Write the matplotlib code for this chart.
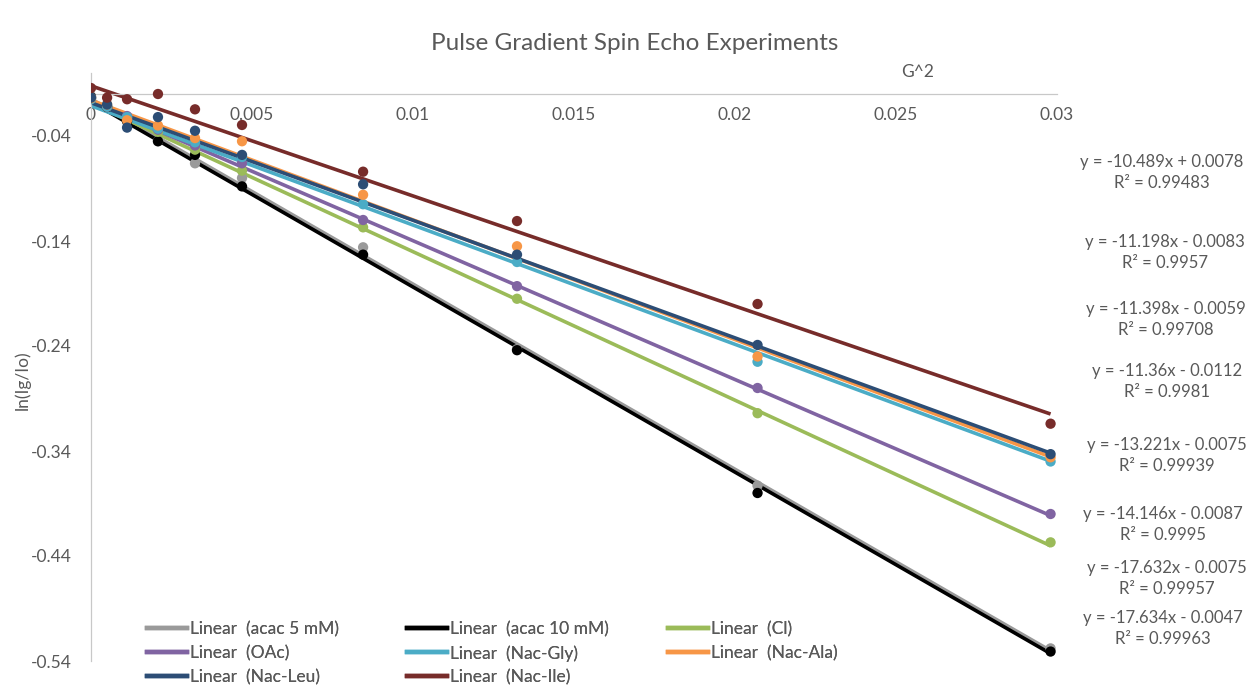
import matplotlib.pyplot as plt
from matplotlib.lines import Line2D
import numpy as np

# ===== CONFIGURATION =====
TEXT_COLOR = '#595959'
AXIS_COLOR = '#c8c8c8'
W, H = 1252, 696
plt.rcParams['font.family'] = ['Lato', 'DejaVu Sans']

# ===== DATA =====
g2 = [0, 0.0005, 0.00112, 0.00208, 0.00323, 0.00469, 0.00845, 0.01323, 0.0207, 0.0298]

series_names = ['acac 5 mM', 'acac 10 mM', 'Cl', 'OAc', 'Nac-Gly', 'Nac-Ala', 'Nac-Leu', 'Nac-Ile']
acac_5mM = [-0.002, -0.012, -0.024, -0.045, -0.066, -0.080, -0.146, -0.243, -0.373, -0.528]
acac_10mM = [-0.003, -0.0124, -0.026, -0.045, -0.058, -0.088, -0.153, -0.244, -0.380, -0.531]
cl = [-0.004, -0.012, -0.022, -0.036, -0.053, -0.073, -0.127, -0.195, -0.304, -0.427]
oac = [-0.004, -0.012, -0.021, -0.034, -0.049, -0.066, -0.120, -0.183, -0.280, -0.400]
nac_gly = [-0.005, -0.012, -0.022, -0.033, -0.046, -0.060, -0.105, -0.160, -0.255, -0.350]
nac_ala = [-0.004, -0.010, -0.025, -0.030, -0.042, -0.045, -0.096, -0.145, -0.250, -0.346]
nac_leu = [-0.0035, -0.010, -0.032, -0.022, -0.035, -0.058, -0.086, -0.153, -0.239, -0.343]
nac_ile = [0.0057, -0.0035, -0.005, 0.0, -0.0146, -0.0295, -0.074, -0.121, -0.200, -0.314]
series_values = [acac_5mM, acac_10mM, cl, oac, nac_gly, nac_ala, nac_leu, nac_ile]

# linear trendlines as printed on the chart
slopes = [-17.634, -17.632, -14.146, -13.221, -11.36, -11.398, -11.198, -10.489]
intercepts = [-0.0047, -0.0075, -0.0087, -0.0075, -0.0112, -0.0059, -0.0083, 0.0078]
r_squared = ['0.99963', '0.99957', '0.9995', '0.99939', '0.9981', '0.99708', '0.9957', '0.99483']

x_ticks = [0, 0.005, 0.01, 0.015, 0.02, 0.025, 0.03]
x_tick_labels = ['0', '0.005', '0.01', '0.015', '0.02', '0.025', '0.03']
y_ticks = [-0.54, -0.44, -0.34, -0.24, -0.14, -0.04]
y_tick_labels = ['-0.54', '-0.44', '-0.34', '-0.24', '-0.14', '-0.04']

colors = ['#9a9a9a', '#000000', '#9BBB59', '#8064A2', '#4BACC6', '#F79646', '#2C4D75', '#772C2A']

# equation label layout (top to bottom: series index, pixel y, pixel x centre)
eq_order = [7, 6, 5, 4, 3, 2, 1, 0]
eq_y_px = [162, 242, 309, 371, 445, 514, 568, 618]
eq_x_px = [1162, 1165, 1166, 1167, 1167, 1163, 1167, 1163]

# legend columns (Excel fills the legend row by row)
legend_cols = [[0, 3, 6], [1, 4, 7], [2, 5]]
legend_col_x = [147, 407, 668]
# ==========================


def fx(px):
    return px / W


def fy(py):
    return 1 - py / H


fig = plt.figure(figsize=(W / 100, H / 100), dpi=100, facecolor='white')
ax = fig.add_axes([fx(91), fy(661), fx(1057) - fx(91), fy(73) - fy(661)])

x = np.array(g2)
x_line = np.array([x.min(), x.max()])
for i, name in enumerate(series_names):
    y_line = slopes[i] * x_line + intercepts[i]
    ax.plot(x_line, y_line, color=colors[i], lw=2.6, solid_capstyle='butt', zorder=2 + i * 0.01)
for i, name in enumerate(series_names):
    ax.scatter(x, series_values[i], s=55, color=colors[i], edgecolors='none', zorder=3 + i * 0.01)

ax.set_xlim(0, 0.03)
ax.set_ylim(-0.54, 0.02)

ax.spines['top'].set_visible(False)
ax.spines['right'].set_visible(False)
ax.spines['bottom'].set_position(('data', 0))
ax.spines['bottom'].set_color(AXIS_COLOR)
ax.spines['left'].set_color(AXIS_COLOR)
ax.spines['bottom'].set_linewidth(0.9)
ax.spines['left'].set_linewidth(0.9)

ax.set_xticks(x_ticks)
ax.set_xticklabels(x_tick_labels)
ax.set_yticks(y_ticks)
ax.set_yticklabels(y_tick_labels)
ax.tick_params(axis='x', length=0, pad=9, labelsize=12.5, labelcolor=TEXT_COLOR)
ax.tick_params(axis='y', length=0, pad=14, labelsize=12.5, labelcolor=TEXT_COLOR)

fig.text(fx(635), fy(44), 'Pulse Gradient Spin Echo Experiments', ha='center', va='center',
         fontsize=17.5, color=TEXT_COLOR)
fig.text(fx(918), fy(72), 'G^2', ha='center', va='center', fontsize=12.5, color=TEXT_COLOR)
fig.text(fx(22), fy(380), 'ln(Ig/Io)', ha='center', va='center', rotation=90,
         fontsize=12.5, color=TEXT_COLOR)

# trendline equations
for k, i in enumerate(eq_order):
    b = intercepts[i]
    sign = '+' if b >= 0 else '-'
    eq = f'y = {slopes[i]}x {sign} {abs(b)}'
    fig.text(fx(eq_x_px[k]), fy(eq_y_px[k]), eq, ha='center', va='center',
             fontsize=12, color=TEXT_COLOR)
    fig.text(fx(eq_x_px[k]), fy(eq_y_px[k] + 21), f'R² = {r_squared[i]}', ha='center', va='center',
             fontsize=12, color=TEXT_COLOR)

# legend, one column at a time so the columns sit where Excel put them
for col, col_x in zip(legend_cols, legend_col_x):
    leg = fig.legend([Line2D([], [], color=colors[i], lw=3.2) for i in col],
                     [f'Linear  ({series_names[i]})' for i in col],
                     loc='upper left', bbox_to_anchor=(fx(col_x), fy(621)),
                     frameon=False, fontsize=12.5, labelcolor=TEXT_COLOR, borderpad=0,
                     handlelength=2.3, handletextpad=0.2, labelspacing=0.45,
                     borderaxespad=0)
    fig.add_artist(leg)

fig.savefig('out.png', dpi=100, facecolor='white')
